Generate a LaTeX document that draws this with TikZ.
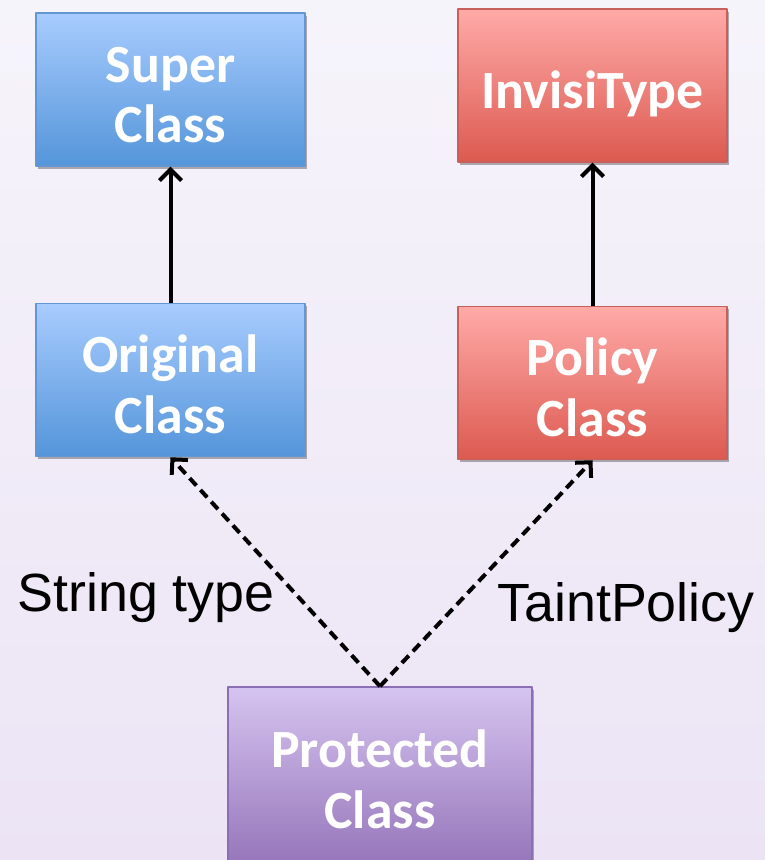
\documentclass[tikz,border=0pt]{standalone}
\usepackage{fontspec}
\usetikzlibrary{arrows.meta,shadows}
\newfontfamily\boxfont{Carlito}
\newfontfamily\labelfont{Liberation Sans}
\definecolor{bgtop}{RGB}{246,244,251}
\definecolor{bgbot}{RGB}{236,228,245}
\definecolor{bluetop}{RGB}{168,204,254}
\definecolor{bluebot}{RGB}{84,149,218}
\definecolor{blueline}{RGB}{100,150,210}
\definecolor{redtop}{RGB}{255,170,168}
\definecolor{redbot}{RGB}{220,90,80}
\definecolor{redline}{RGB}{200,95,90}
\definecolor{purptop}{RGB}{214,196,240}
\definecolor{purpbot}{RGB}{150,118,186}
\definecolor{purpline}{RGB}{140,110,180}
\newcommand{\boxtext}[1]{\raisebox{-17bp}[0pt][0pt]{\begin{tabular}{@{}c@{}}#1\end{tabular}}}

\begin{document}
\begin{tikzpicture}[>={Straight Barb[length=11bp,width=22bp]},line join=bevel,
    classbox/.style={draw,line width=1.5bp,minimum width=269bp,minimum height=153bp,inner sep=0pt,
      text=white,font=\boxfont\bfseries\fontsize{54}{61}\selectfont,
      drop shadow={shadow xshift=1.5bp,shadow yshift=-3bp,opacity=0.3,fill=black}},
    bluebox/.style={classbox,draw=blueline,top color=bluetop,bottom color=bluebot},
    redbox/.style={classbox,draw=redline,top color=redtop,bottom color=redbot},
    purpbox/.style={classbox,draw=purpline,top color=purptop,bottom color=purpbot,minimum width=304bp,minimum height=176bp},
    edgelabel/.style={font=\labelfont\fontsize{54}{60}\selectfont,inner sep=0pt},
    inherit/.style={->,line width=4bp},
    depends/.style={->,line width=4bp,dash pattern=on 10bp off 6bp}]
    %%
    \useasboundingbox (0bp,0bp) rectangle (765bp,860bp);
    \shade[top color=bgtop,bottom color=bgbot] (0bp,0bp) rectangle (765bp,860bp);
    %%
      \node[bluebox] (super) at (170.5bp,770.5bp) {\boxtext{Super\\Class}};
      \node[redbox] (invisi) at (592.5bp,774.5bp) {\boxtext{InvisiType}};
      \node[bluebox] (orig) at (170.5bp,480bp) {\boxtext{Original\\Class}};
      \node[redbox] (policy) at (592.5bp,477bp) {\boxtext{Policy\\Class}};
      \node[purpbox] (prot) at (380bp,85bp) {\boxtext{Protected\\Class}};
      \draw [inherit] (orig) -- (super);
      \draw [inherit] (policy) -- (invisi);
      \draw [depends] (prot.north) -- (orig.south);
      \draw [depends] (prot.north) -- (policy.south);
      \node[edgelabel] (strlabel) at (146bp,262bp) {String type};
      \node[edgelabel] (taintlabel) at (626bp,252bp) {TaintPolicy};
    %
\end{tikzpicture}
\end{document}
